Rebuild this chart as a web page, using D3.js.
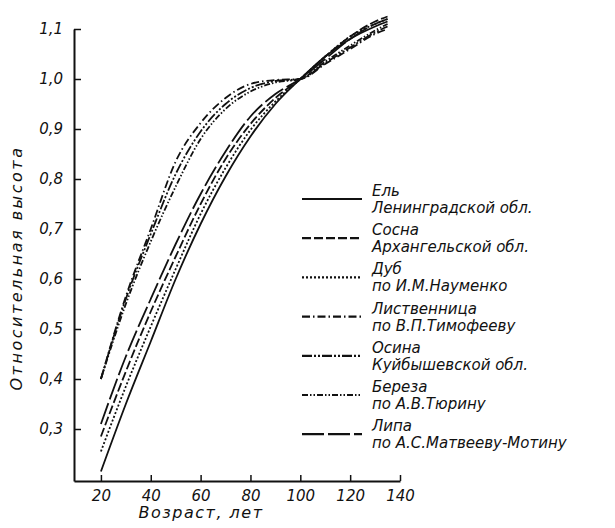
<!DOCTYPE html>
<html>
<head>
<meta charset="utf-8">
<script src="https://cdn.jsdelivr.net/npm/d3@7"></script>
<style>
body { margin: 0; background: #fff; }
svg { display: block; }
text { font-family: "DejaVu Sans", sans-serif; font-style: italic; fill: #111; }
</style>
</head>
<body>
<script>
const ages = [20, 30, 40, 50, 60, 70, 80, 90, 100, 110, 120, 130, 135];

// relative height (h / h100) per species
const el = [0.215, 0.35, 0.475, 0.60, 0.71, 0.805, 0.885, 0.95, 1.0, 1.045, 1.08, 1.105, 1.115];
const sosna = [0.285, 0.415, 0.535, 0.645, 0.75, 0.84, 0.91, 0.962, 1.0, 1.045, 1.085, 1.115, 1.125];
const dub = [0.255, 0.385, 0.505, 0.62, 0.73, 0.822, 0.898, 0.955, 1.0, 1.045, 1.085, 1.11, 1.12];
const listvennitsa = [0.40, 0.565, 0.70, 0.835, 0.912, 0.962, 0.99, 0.998, 1.0, 1.03, 1.06, 1.09, 1.10];
const osina = [0.40, 0.56, 0.69, 0.81, 0.895, 0.95, 0.982, 0.996, 1.0, 1.032, 1.063, 1.093, 1.105];
const bereza = [0.40, 0.55, 0.675, 0.785, 0.88, 0.94, 0.975, 0.993, 1.0, 1.035, 1.067, 1.097, 1.11];
const lipa = [0.31, 0.445, 0.56, 0.67, 0.77, 0.855, 0.925, 0.97, 1.0, 1.04, 1.08, 1.11, 1.12];

const speciesNames = ["Ель", "Сосна", "Дуб", "Лиственница", "Осина", "Береза", "Липа"];
const speciesSources = ["Ленинградской обл.", "Архангельской обл.", "по И.М.Науменко", "по В.П.Тимофееву",
    "Куйбышевской обл.", "по А.В.Тюрину", "по А.С.Матвееву-Мотину"];
const seriesValues = [el, sosna, dub, listvennitsa, osina, bereza, lipa];

const xTicks = [20, 40, 60, 80, 100, 120, 140];
const yTicks = [0.3, 0.4, 0.5, 0.6, 0.7, 0.8, 0.9, 1.0, 1.1];

// line style per species
var dashes = ["none", "9,3", "2,2", "8,3,1.5,3", "10,2,2,2,2,2", "6,2,1.5,2,1.5,2", "22,4"];

var width = 615, height = 528;

var svg = d3.select("body")
    .append("svg")
    .attr("width", width)
    .attr("height", height);

var x = d3.scaleLinear().domain([9.2, 140]).range([74, 400]);
var y = d3.scaleLinear().domain([0.196, 1.1]).range([481, 29]);

var fmt = d => d3.format(".1f")(d).replace(".", ",");

var yAxis = d3.axisLeft(y)
    .tickValues(yTicks)
    .tickFormat(fmt)
    .tickSizeInner(-7)
    .tickSizeOuter(0)
    .tickPadding(11);

var xAxis = d3.axisBottom(x)
    .tickValues(xTicks)
    .tickFormat(d3.format("d"))
    .tickSizeInner(-6)
    .tickSizeOuter(0)
    .tickPadding(9);

svg.append("g")
    .attr("class", "y axis")
    .attr("transform", "translate(" + x.range()[0] + ",0)")
    .call(yAxis);

svg.append("g")
    .attr("class", "x axis")
    .attr("transform", "translate(0," + y.range()[0] + ")")
    .call(xAxis);

svg.selectAll(".axis path.domain").attr("stroke", "#111").attr("stroke-width", 2);
svg.selectAll(".axis line").attr("stroke", "#111").attr("stroke-width", 1.5);
svg.selectAll(".axis text")
    .attr("font-family", null)
    .attr("font-size", 15)
    .attr("fill", "#111");

svg.append("text")
    .attr("transform", "translate(22,268) rotate(-90)")
    .attr("text-anchor", "middle")
    .attr("font-size", 16)
    .attr("letter-spacing", 2.5)
    .text("Относительная высота");

svg.append("text")
    .attr("x", 201)
    .attr("y", 518)
    .attr("text-anchor", "middle")
    .attr("font-size", 16)
    .attr("letter-spacing", 1.5)
    .text("Возраст, лет");

var line = d3.line()
    .x((d, i) => x(ages[i]))
    .y(d => y(d))
    .curve(d3.curveMonotoneX);

svg.append("g")
    .attr("class", "curves")
    .selectAll("path")
    .data(seriesValues)
    .enter()
    .append("path")
    .attr("fill", "none")
    .attr("stroke", "#111")
    .attr("stroke-width", 1.8)
    .attr("stroke-dasharray", (d, i) => dashes[i])
    .attr("d", line);

// legend
var legendTop = 199, legendStep = 39.2;
var legend = svg.append("g")
    .attr("class", "legendbox")
    .selectAll("g")
    .data(speciesNames)
    .enter()
    .append("g")
    .attr("class", "legend")
    .attr("transform", (d, i) => "translate(302," + (legendTop + i * legendStep) + ")");

legend.append("line")
    .attr("x1", 0)
    .attr("x2", 60)
    .attr("stroke", "#111")
    .attr("stroke-width", 2.2)
    .attr("stroke-dasharray", (d, i) => dashes[i]);

legend.append("text")
    .attr("x", 70)
    .attr("y", -3)
    .attr("font-size", 15)
    .text(d => d);

legend.append("text")
    .attr("x", 70)
    .attr("y", 14)
    .attr("font-size", 15)
    .text((d, i) => speciesSources[i]);
</script>
</body>
</html>
